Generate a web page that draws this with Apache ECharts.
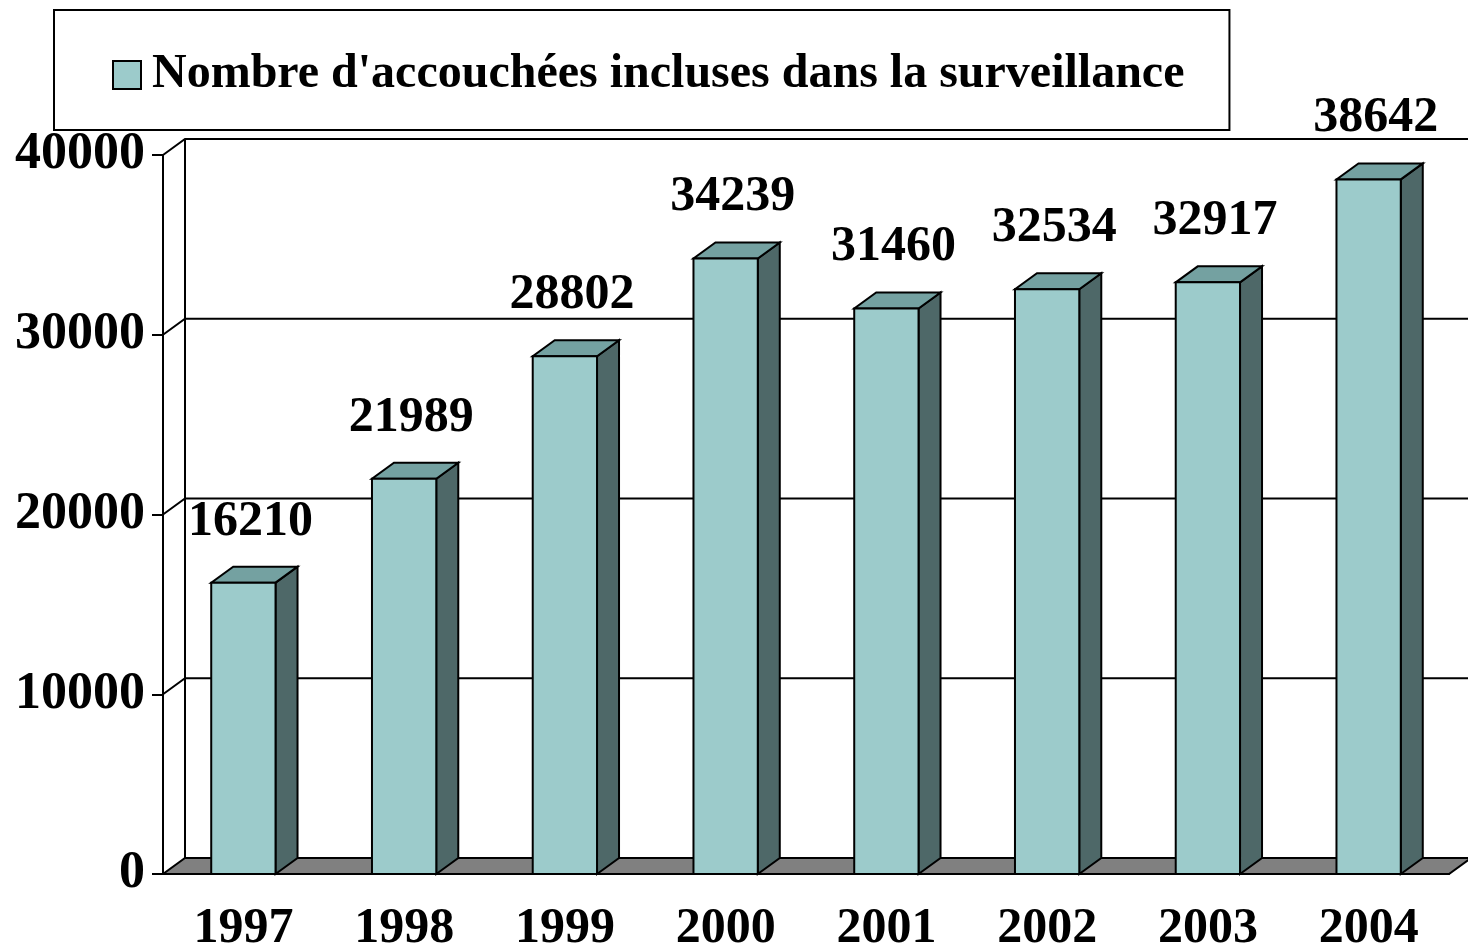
<!DOCTYPE html>
<html>
<head>
<meta charset="utf-8">
<script src="https://cdn.jsdelivr.net/npm/echarts@6/dist/echarts.min.js"></script>
<style>
  html, body { margin: 0; padding: 0; background: #fff; }
  #chart { width: 1468px; height: 946px; }
</style>
</head>
<body>
<div id="chart"></div>
<script>
// données
const years = ["1997", "1998", "1999", "2000", "2001", "2002", "2003", "2004"];
const counts = [16210, 21989, 28802, 34239, 31460, 32534, 32917, 38642];
const yTicks = [0, 10000, 20000, 30000, 40000];
const seriesName = "Nombre d'accouchées incluses dans la surveillance";

const FONT = "'Liberation Serif', 'Times New Roman', serif";
const DX = 22, DY = -16; // profondeur de la pseudo 3D
const FRONT = "#9CCBCB", TOP = "#74A1A1", SIDE = "#4E6868", FLOOR = "#808080";

const chart = echarts.init(document.getElementById("chart"));

// murs : quadrillage du fond + sol
const renderWalls = (params, api) => {
  const v = api.value(1);
  const p = api.coord([0, v]);
  const x0 = p[0] - api.size([1, 0])[0] / 2;
  const y = p[1];
  const W = api.getWidth();
  const children = [];
  if (v === 0) {
    const xR = api.coord([years.length - 1, 0])[0] + api.size([1, 0])[0] / 2;
    children.push({
      type: "polygon",
      shape: { points: [[x0, y], [xR, y], [xR + DX, y + DY], [x0 + DX, y + DY]] },
      style: { fill: FLOOR, stroke: "#000", lineWidth: 2 },
    });
    const top = api.coord([0, yTicks[yTicks.length - 1]])[1];
    children.push({
      type: "line",
      shape: { x1: x0 + DX, y1: top + DY, x2: x0 + DX, y2: y + DY },
      style: { stroke: "#000", lineWidth: 2 },
    });
  } else {
    children.push({
      type: "polyline",
      shape: { points: [[x0, y], [x0 + DX, y + DY], [W, y + DY]] },
      style: { stroke: "#000", lineWidth: 2, fill: null },
    });
  }
  return { type: "group", children };
};

// barres en pseudo 3D
const renderBar = (params, api) => {
  const i = api.value(0);
  const top = api.coord([i, api.value(1)]);
  const base = api.coord([i, 0]);
  const w = api.size([1, 0])[0] * 0.4;
  const l = top[0] - w / 2, r = top[0] + w / 2;
  const t = top[1], b = base[1];
  const stroke = { stroke: "#000", lineWidth: 2 };
  return {
    type: "group",
    children: [
      {
        type: "polygon",
        shape: { points: [[r, b], [r + DX, b + DY], [r + DX, t + DY], [r, t]] },
        style: Object.assign({ fill: SIDE }, stroke),
      },
      {
        type: "polygon",
        shape: { points: [[l, t], [r, t], [r + DX, t + DY], [l + DX, t + DY]] },
        style: Object.assign({ fill: TOP }, stroke),
      },
      {
        type: "rect",
        shape: { x: l, y: t, width: w, height: b - t },
        style: Object.assign({ fill: FRONT }, stroke),
      },
      {
        type: "text",
        x: top[0] + 7,
        y: t - 61,
        style: {
          text: String(api.value(1)),
          fill: "#000",
          font: "bold 50px " + FONT,
          align: "center",
          verticalAlign: "middle",
        },
      },
    ],
  };
};

chart.setOption({
  animation: false,
  legend: {
    data: [{ name: seriesName, icon: "rect" }],
    left: 54,
    top: 10,
    padding: [41, 45, 31, 58],
    itemWidth: 28,
    itemHeight: 28,
    borderColor: "#000",
    borderWidth: 2,
    textStyle: {
      fontFamily: FONT,
      fontWeight: "bold",
      fontSize: 48,
      color: "#000",
      padding: [0, 0, 0, 6],
    },
  },
  grid: { left: 163, right: 19, top: 155, bottom: 72, outerBoundsMode: "none" },
  xAxis: {
    type: "category",
    data: years,
    axisLine: { lineStyle: { color: "#000", width: 2 } },
    axisTick: { length: 11, lineStyle: { color: "#000", width: 2 } },
    axisLabel: {
      color: "#000",
      fontFamily: FONT,
      fontWeight: "bold",
      fontSize: 50,
      margin: 30,
    },
  },
  yAxis: {
    type: "value",
    min: 0,
    max: 40000,
    interval: 10000,
    splitLine: { show: false },
    axisLine: { show: true, lineStyle: { color: "#000", width: 2 } },
    axisTick: { show: true, length: 11, lineStyle: { color: "#000", width: 2 } },
    axisLabel: {
      color: "#000",
      fontFamily: FONT,
      fontWeight: "bold",
      fontSize: 52,
      margin: 18,
      formatter: (v) => String(v),
    },
  },
  series: [
    {
      name: "walls",
      type: "custom",
      silent: true,
      z: 1,
      renderItem: renderWalls,
      data: yTicks.map((v) => [0, v]),
    },
    {
      name: seriesName,
      type: "custom",
      z: 3,
      itemStyle: { color: FRONT, borderColor: "#000", borderWidth: 2 },
      renderItem: renderBar,
      data: counts.map((v, i) => [i, v]),
    },
  ],
});
</script>
</body>
</html>
